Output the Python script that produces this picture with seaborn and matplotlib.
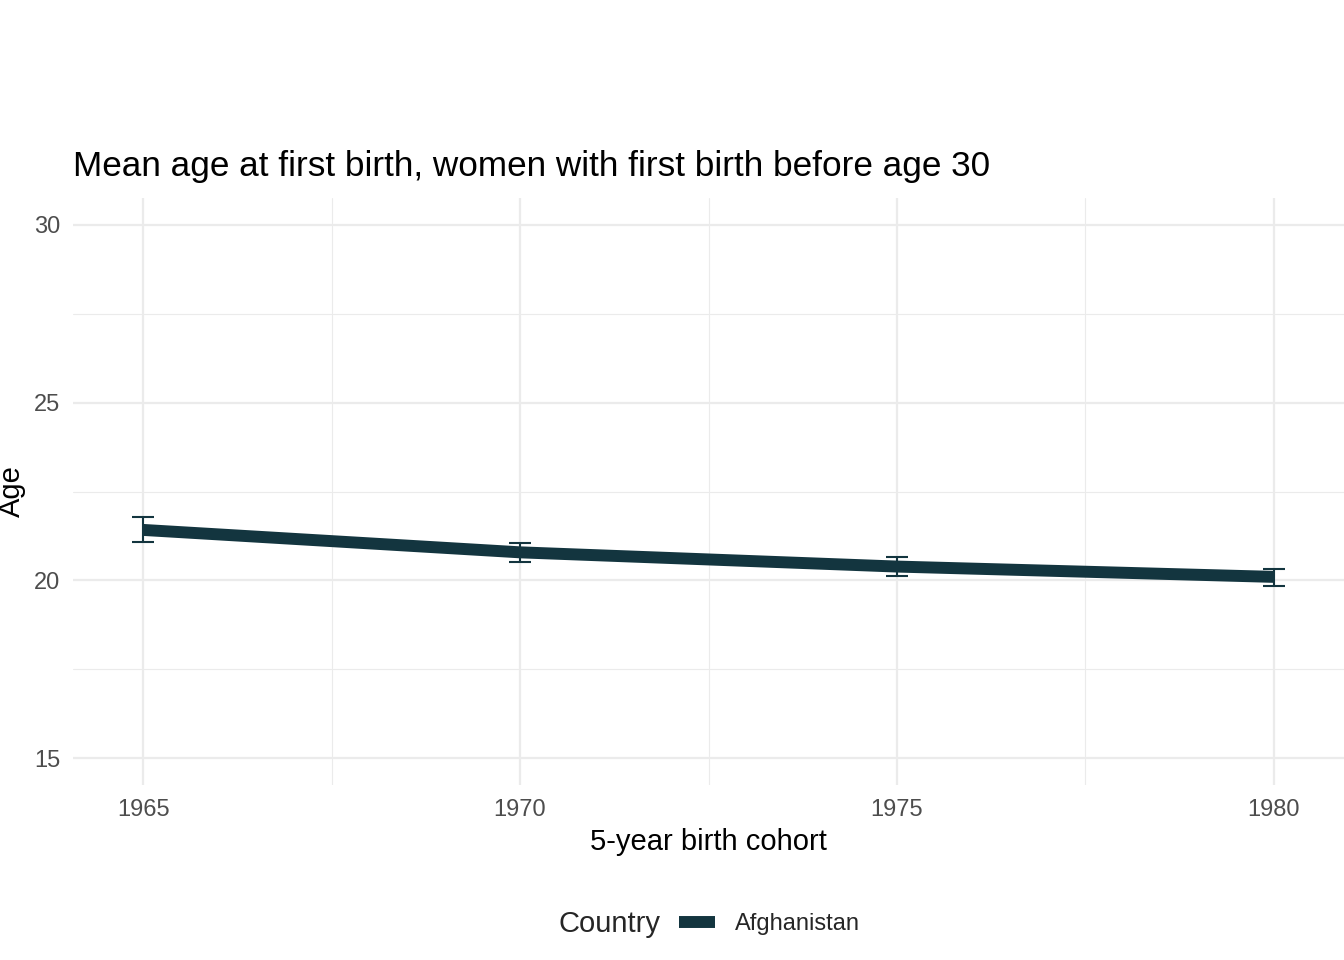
import pandas as pd
import numpy as np
import seaborn as sns
import matplotlib.pyplot as plt

# data
cohorts = [1965, 1970, 1975, 1980]
mean_age = [21.42, 20.79, 20.39, 20.10]
ci_low = [21.07, 20.53, 20.13, 19.83]
ci_high = [21.78, 21.04, 20.66, 20.33]
countries = ["Afghanistan"] * 4

COL = "#13353F"
GRID = "#EBEBEB"

df = pd.DataFrame({"cohort": cohorts, "age": mean_age, "lo": ci_low,
                   "hi": ci_high, "Country": countries})

sns.set_theme(style="white")
plt.rcParams['font.family'] = ['Liberation Sans', 'DejaVu Sans']

fig = plt.figure(figsize=(13.44, 9.6), dpi=100)
ax = fig.add_axes([73 / 1344, 1 - 785 / 960, 1 - 73 / 1344, (785 - 198) / 960])

# grid
for x in [1965, 1970, 1975, 1980]:
    ax.axvline(x, color=GRID, lw=1.6, zorder=0)
for x in [1967.5, 1972.5, 1977.5]:
    ax.axvline(x, color=GRID, lw=0.8, zorder=0)
for y in [15, 20, 25, 30]:
    ax.axhline(y, color=GRID, lw=1.6, zorder=0)
for y in [17.5, 22.5, 27.5]:
    ax.axhline(y, color=GRID, lw=0.8, zorder=0)

ax.errorbar(df["cohort"], df["age"],
            yerr=[df["age"] - df["lo"], df["hi"] - df["age"]],
            fmt="none", ecolor=COL, elinewidth=1.5, capsize=7.6,
            capthick=1.5, zorder=2)
sns.lineplot(data=df, x="cohort", y="age", hue="Country", palette=[COL],
             linewidth=8.6, ax=ax, legend=False, zorder=3,
             solid_capstyle="butt")

ax.set_xlim(1964.07, 1980.93)
ax.set_ylim(14.25, 30.75)
ax.set_xticks([1965, 1970, 1975, 1980])
ax.set_yticks([15, 20, 25, 30])
ax.tick_params(axis="both", labelsize=17, labelcolor="#4D4D4D", length=0)
ax.tick_params(axis="x", pad=10)
ax.tick_params(axis="y", pad=9)
for s in ax.spines.values():
    s.set_visible(False)

ax.set_xlabel("5-year birth cohort", fontsize=21, color="black", labelpad=5)
ax.set_ylabel("Age", fontsize=21, color="black", va="center")
ax.yaxis.set_label_coords(-61 / 1271, 0.5)
ax.set_title("Mean age at first birth, women with first birth before age 30",
             fontsize=25.3, loc="left", pad=16, color="black")

# legend at the bottom
fig.text(558 / 1344, 1 - 924 / 960, "Country", fontsize=21, va="center", ha="left")
handle = plt.Line2D([], [], color=COL, lw=8.6, solid_capstyle="butt")
fig.legend([handle], ["Afghanistan"], loc="center left",
           bbox_to_anchor=(658 / 1344, 1 - 924 / 960), frameon=False,
           fontsize=17, handlelength=1.53, handletextpad=0.85)

plt.savefig("out.png", dpi=100)
